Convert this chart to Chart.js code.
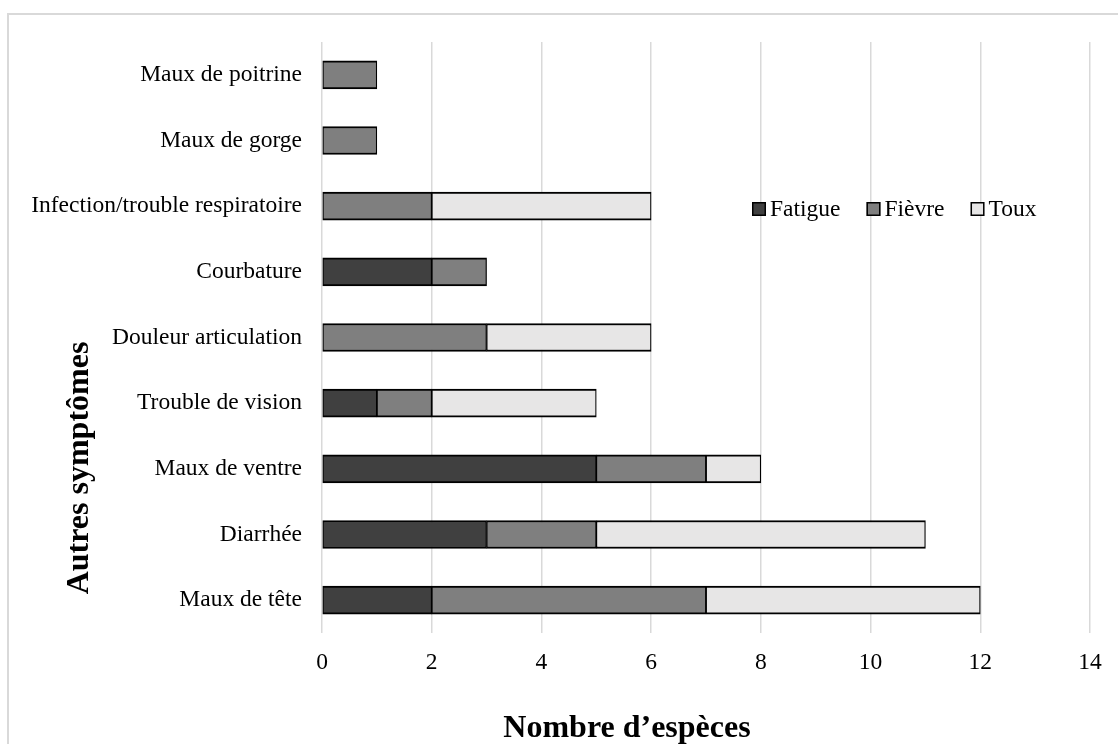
<!DOCTYPE html>
<html lang="fr">
<head>
<meta charset="utf-8">
<title>Autres symptômes</title>
<script src="https://cdn.jsdelivr.net/npm/chart.js@4/dist/chart.umd.min.js"></script>
<style>
  html, body { margin: 0; padding: 0; background: #ffffff; }
  #wrap { position: relative; width: 1118px; height: 744px; }
</style>
</head>
<body>
<div id="wrap"><canvas id="chart" width="1118" height="744"></canvas></div>
<script>
// Symptom categories, listed top to bottom
const categories = [
  'Maux de poitrine',
  'Maux de gorge',
  'Infection/trouble respiratoire',
  'Courbature',
  'Douleur articulation',
  'Trouble de vision',
  'Maux de ventre',
  'Diarrhée',
  'Maux de tête'
];
// Number of species per symptom (null = none)
const fatigue = [null, null, null, 2, null, 1, 5, 3, 2];
const fievre  = [1, 1, 2, 1, 3, 1, 2, 2, 5];
const toux    = [null, null, 4, null, 3, 3, 1, 6, 5];

const seriesNames = ['Fatigue', 'Fièvre', 'Toux'];
const xTicks = [0, 2, 4, 6, 8, 10, 12, 14];
const xTitle = 'Nombre d\u2019espèces';
const yTitle = 'Autres symptômes';

const FONT = '"Liberation Serif", "Times New Roman", serif';
const colors = ['#404040', '#7f7f7f', '#e7e6e6'];

// Frame, axis titles and an in-plot legend
const decorations = {
  id: 'decorations',
  beforeDraw(chart) {
    const ctx = chart.ctx;
    ctx.save();
    ctx.strokeStyle = '#d9d9d9';
    ctx.lineWidth = 2;
    ctx.strokeRect(8, 14, 1120, 760);
    ctx.restore();
  },
  afterDraw(chart) {
    const ctx = chart.ctx;
    const area = chart.chartArea;
    ctx.save();
    ctx.fillStyle = '#000';
    ctx.font = 'bold 32px ' + FONT;
    ctx.textAlign = 'center';
    ctx.textBaseline = 'alphabetic';
    ctx.fillText(xTitle, 627, 737);

    ctx.save();
    ctx.translate(88, 468);
    ctx.rotate(-Math.PI / 2);
    ctx.fillText(yTitle, 0, 0);
    ctx.restore();

    // legend
    ctx.font = '23.5px ' + FONT;
    ctx.textAlign = 'left';
    ctx.textBaseline = 'middle';
    let x = area.left + 430;
    const yc = 209;
    chart.data.datasets.forEach((ds) => {
      ctx.fillStyle = ds.backgroundColor;
      ctx.fillRect(x, yc - 7, 14, 14);
      ctx.strokeStyle = '#000';
      ctx.lineWidth = 1.5;
      ctx.strokeRect(x + 0.75, yc - 6.25, 12.5, 12.5);
      ctx.fillStyle = '#000';
      ctx.fillText(ds.label, x + 18, yc + 1);
      x += 18 + ctx.measureText(ds.label).width + 26;
    });
    ctx.restore();
  }
};

const seriesData = [fatigue, fievre, toux];

new Chart(document.getElementById('chart'), {
  type: 'bar',
  data: {
    labels: categories,
    datasets: seriesNames.map((name, i) => ({
      label: name,
      data: seriesData[i],
      backgroundColor: colors[i],
      borderColor: '#000000',
      borderWidth: { top: 2, bottom: 2, left: 1.25, right: 1.25 },
      borderSkipped: false,
      barThickness: 28
    }))
  },
  options: {
    indexAxis: 'y',
    responsive: false,
    animation: false,
    layout: { padding: { top: 42, right: 28, left: 0, bottom: 0 } },
    plugins: {
      legend: { display: false },
      tooltip: { enabled: false }
    },
    scales: {
      x: {
        stacked: true,
        min: 0,
        max: 14,
        afterBuildTicks(scale) { scale.ticks = xTicks.map(v => ({ value: v })); },
        afterFit(scale) { scale.height = 744 - 633; },
        grid: { color: '#d9d9d9', lineWidth: 1.5, drawTicks: false },
        border: { display: false },
        ticks: { color: '#000', font: { family: FONT, size: 23.5 }, padding: 16 }
      },
      y: {
        stacked: true,
        afterFit(scale) { scale.width = 322; },
        grid: { display: false, drawTicks: false },
        border: { display: false },
        ticks: { color: '#000', font: { family: FONT, size: 23.5 }, padding: 20 }
      }
    }
  },
  plugins: [decorations]
});
</script>
</body>
</html>
